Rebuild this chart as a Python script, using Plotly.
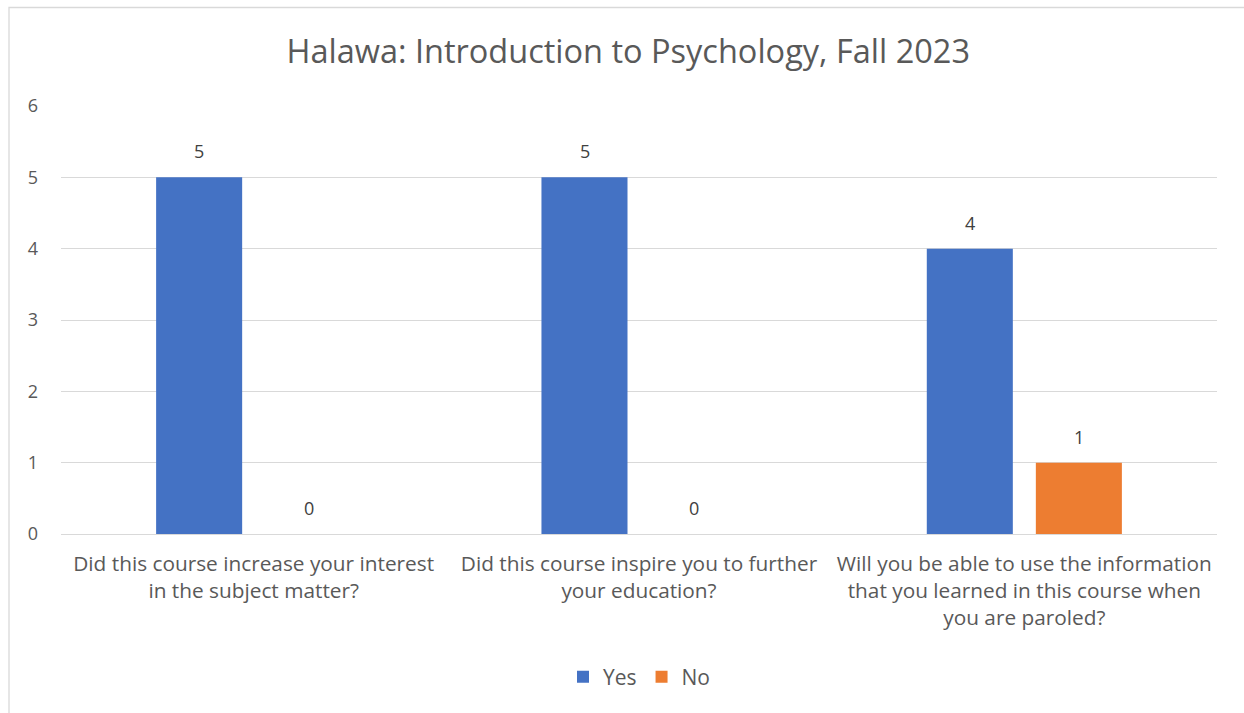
import plotly.graph_objects as go

categories = [
    "Did this course increase your interest<br>in the subject matter?",
    "Did this course inspire you to further<br>your education?",
    "Will you be able to use the information<br>that you learned in this course when<br>you are paroled?",
]
yes_values = [5, 5, 4]
no_values = [0, 0, 1]
series_names = ["Yes", "No"]
y_ticks = [0, 1, 2, 3, 4, 5, 6]

FONT = "Open Sans"
GRAY = "#595959"
W, H = 1244, 713
L, R, T, B = 61, 27, 106, 179
pw = W - L - R
ph = H - T - B

fig = go.Figure()
series = [(series_names[0], yes_values, "#4472C4", -54.5),
          (series_names[1], no_values, "#ED7D31", 55)]
annotations = []
for name, vals, color, shift in series:
    fig.add_trace(go.Bar(
        x=categories, y=vals, name=name,
        marker=dict(color=color, line=dict(width=0)),
    ))
    for c, v in zip(categories, vals):
        annotations.append(dict(
            x=c, y=v, xref="x", yref="y", text=str(v), showarrow=False,
            xshift=shift, yshift=26, yanchor="middle", xanchor="center",
            font=dict(family=FONT, size=18, color="#404040"),
        ))

fig.update_layout(
    width=W, height=H,
    margin=dict(l=L, r=R, t=T, b=B, autoexpand=False),
    paper_bgcolor="white", plot_bgcolor="white",
    barmode="group", bargap=0.434, bargroupgap=0.211,
    title=dict(text="Halawa: Introduction to Psychology, Fall 2023",
               x=0.505, xanchor="center", y=1 - 52 / H, yanchor="middle",
               font=dict(family=FONT, size=32.5, color=GRAY)),
    font=dict(family=FONT, color=GRAY, size=18),
    showlegend=True,
    legend=dict(orientation="h", x=0.5, xanchor="center", y=(ph - (677 - T)) / ph,
                yanchor="middle", font=dict(family=FONT, size=21, color=GRAY),
                itemwidth=30, traceorder="normal"),
    xaxis=dict(showgrid=False, showline=False, ticks="",
               tickfont=dict(family=FONT, size=20.8, color=GRAY),
               ticklabelstandoff=15),
    yaxis=dict(range=[0, 6], tickvals=y_ticks, showgrid=True, gridcolor="#D9D9D9", gridwidth=1.3,
               zeroline=True, zerolinecolor="#D9D9D9", zerolinewidth=1.3, showline=False,
               ticks="", ticklabelstandoff=22,
               tickfont=dict(family=FONT, size=18, color=GRAY)),
    annotations=annotations,
    shapes=[dict(type="rect", xref="paper", yref="paper",
                 x0=(9 - L) / pw, x1=(1260 - L) / pw,
                 y0=(ph - (730 - T)) / ph, y1=(ph - (7.5 - T)) / ph,
                 line=dict(color="#D9D9D9", width=1.3), fillcolor="rgba(0,0,0,0)", layer="below")],
)

fig.write_html("out.html", config={"displayModeBar": False},
               post_script="document.body.style.margin='0';")
